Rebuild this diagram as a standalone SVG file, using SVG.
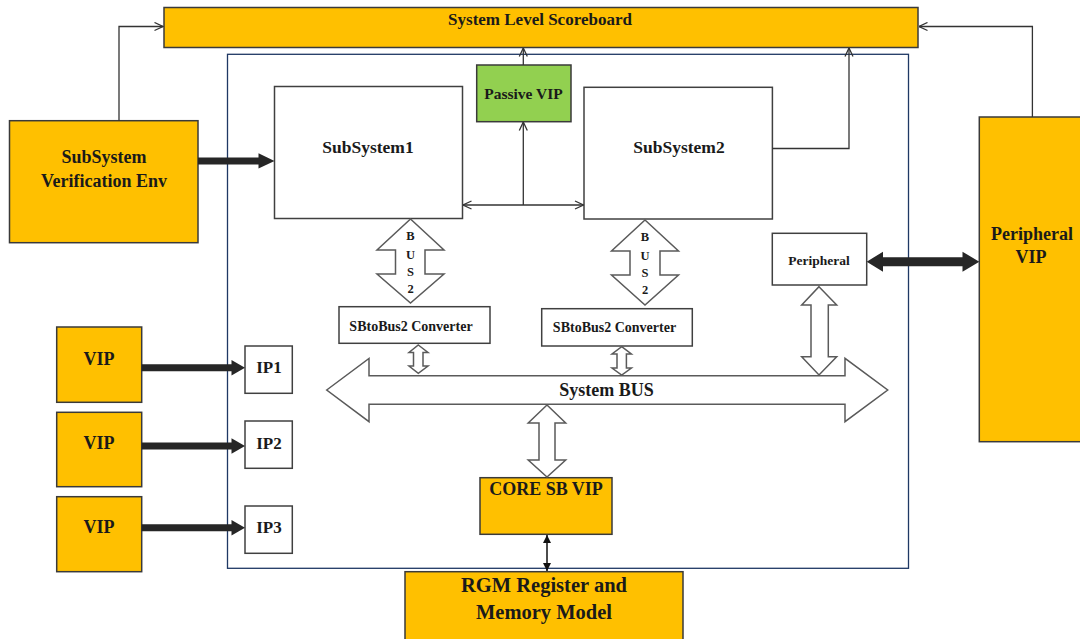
<svg xmlns="http://www.w3.org/2000/svg" width="1080" height="639" viewBox="0 0 1080 639">
<style>
.t{font-family:"Liberation Serif","Times New Roman",serif;font-weight:bold;fill:#1a1a1a;text-anchor:middle}
.org{fill:#ffc000;stroke:#3a3a3a;stroke-width:1.5}
.wht{fill:#ffffff;stroke:#404040;stroke-width:1.5}
.grn{fill:#92d050;stroke:#3a3a3a;stroke-width:1.5}
.ln{fill:none;stroke:#333333;stroke-width:1.3}
.thick{fill:#262626;stroke:none}
.hollow{fill:#ffffff;stroke:#5a5a5a;stroke-width:1.5;stroke-linejoin:miter}
</style>
<defs>
<marker id="open" viewBox="0 0 10 10" refX="9.5" refY="5" markerWidth="10" markerHeight="10" markerUnits="userSpaceOnUse" orient="auto-start-reverse">
<path d="M1,1 L9.5,5 L1,9" fill="none" stroke="#333333" stroke-width="1.3"/>
</marker>
<marker id="solid" viewBox="0 0 10 10" refX="10" refY="5" markerWidth="8" markerHeight="8" markerUnits="userSpaceOnUse" orient="auto-start-reverse">
<path d="M0,0 L10,5 L0,10 Z" fill="#111111"/>
</marker>
</defs>
<rect width="1080" height="639" fill="#ffffff"/>

<g id="outer-box">
<rect x="227.5" y="54.3" width="681" height="514" fill="none" stroke="#1f3864" stroke-width="1.3"/>
</g>

<g id="scoreboard">
<rect class="org" x="164" y="7.5" width="754" height="40"/>
<text class="t" x="540" y="25" font-size="17">System Level Scoreboard</text>
</g>

<g id="ssve">
<rect class="org" x="9.5" y="120.7" width="188.5" height="122"/>
<text class="t" x="104" y="163" font-size="18">SubSystem</text>
<text class="t" x="104" y="187" font-size="18">Verification Env</text>
</g>

<g id="subsystem1">
<rect class="wht" x="274.5" y="86.5" width="188" height="132"/>
<text class="t" x="368" y="152.5" font-size="17.5">SubSystem1</text>
</g>

<g id="passive-vip">
<rect class="grn" x="476.7" y="65" width="94.3" height="56.7"/>
<text class="t" x="523.5" y="98.5" font-size="15.5">Passive VIP</text>
</g>

<g id="subsystem2">
<rect class="wht" x="584" y="87.3" width="188.4" height="131.7"/>
<text class="t" x="679" y="152.5" font-size="17.5">SubSystem2</text>
</g>

<g id="peripheral-vip">
<rect class="org" x="979.3" y="117" width="110" height="324.7"/>
<text class="t" x="1032" y="240" font-size="18">Peripheral</text>
<text class="t" x="1031" y="263" font-size="18">VIP</text>
</g>

<g id="peripheral">
<rect class="wht" x="772.3" y="233.3" width="94.4" height="51.7"/>
<text class="t" x="819" y="264.5" font-size="13.5">Peripheral</text>
</g>

<g id="converter1">
<rect class="wht" x="339" y="306.7" width="151" height="36.6"/>
<text class="t" x="411" y="331" font-size="14">SBtoBus2 Converter</text>
</g>

<g id="converter2">
<rect class="wht" x="541.7" y="308.7" width="150.6" height="37.3"/>
<text class="t" x="614.5" y="332" font-size="14">SBtoBus2 Converter</text>
</g>

<g id="vip1">
<rect class="org" x="56.7" y="327" width="85" height="75.3"/>
<text class="t" x="99" y="364.5" font-size="18">VIP</text>
</g>
<g id="vip2">
<rect class="org" x="56.7" y="412.3" width="85" height="74.4"/>
<text class="t" x="99" y="449" font-size="18">VIP</text>
</g>
<g id="vip3">
<rect class="org" x="56.7" y="496.7" width="85" height="75"/>
<text class="t" x="99" y="533" font-size="18">VIP</text>
</g>

<g id="ip1">
<rect class="wht" x="245" y="346" width="47.3" height="47.3"/>
<text class="t" x="269" y="373" font-size="17">IP1</text>
</g>
<g id="ip2">
<rect class="wht" x="245" y="421" width="47.3" height="47.3"/>
<text class="t" x="269" y="448.5" font-size="17">IP2</text>
</g>
<g id="ip3">
<rect class="wht" x="245" y="506" width="47.3" height="47.3"/>
<text class="t" x="269" y="533" font-size="17">IP3</text>
</g>

<g id="core-sb-vip">
<rect class="org" x="480" y="477.7" width="132" height="56.6"/>
<text class="t" x="546" y="495" font-size="18">CORE SB VIP</text>
</g>

<g id="rgm">
<rect class="org" x="405" y="571.7" width="278" height="75"/>
<text class="t" x="544" y="592" font-size="20.5">RGM Register and</text>
<text class="t" x="544" y="618.5" font-size="20.5">Memory Model</text>
</g>

<g id="system-bus">
<polygon class="hollow" points="326.7,390 369,358.5 369,375.7 845,375.7 845,358.3 887.7,390 845,421.7 845,404.3 369,404.3 369,421.7"/>
<text class="t" x="606.5" y="396" font-size="18">System BUS</text>
</g>

<g id="bus2-left">
<polygon class="hollow" points="410.5,219 444,250 425,250 425,274 444,274 410.5,303 377,274 395.5,274 395.5,250 377,250"/>
<text class="t" x="410.5" y="240" font-size="12.5">B</text>
<text class="t" x="410.5" y="258.5" font-size="12.5">U</text>
<text class="t" x="410.5" y="276" font-size="12.5">S</text>
<text class="t" x="410.5" y="292.5" font-size="12.5">2</text>
</g>

<g id="bus2-right">
<polygon class="hollow" points="645,220 678.5,251 660,251 660,275 678.5,275 645,305 611.5,275 630,275 630,251 611.5,251"/>
<text class="t" x="645" y="241" font-size="12.5">B</text>
<text class="t" x="645" y="259.5" font-size="12.5">U</text>
<text class="t" x="645" y="277" font-size="12.5">S</text>
<text class="t" x="645" y="293.5" font-size="12.5">2</text>
</g>

<g id="connectors">
<path class="ln" d="M119,120.7 V26.5 H163" marker-end="url(#open)"/>
<path class="ln" d="M1032.4,117 V26.5 H919" marker-end="url(#open)"/>
<path class="ln" d="M772.4,148.5 H849 V48" marker-end="url(#open)"/>
<path class="ln" d="M523.3,65 V48" marker-end="url(#open)"/>
<path class="ln" d="M523.3,205 V122" marker-end="url(#open)"/>
<path class="ln" d="M463,205 H583.5" marker-start="url(#open)" marker-end="url(#open)"/>
<path d="M547,535 V571" fill="none" stroke="#111111" stroke-width="1.5" marker-start="url(#solid)" marker-end="url(#solid)"/>

<polygon class="thick" points="198,157.5 258.5,157.5 258.5,153.3 274.5,161 258.5,168.5 258.5,164.5 198,164.5"/>
<polygon class="thick" points="141.7,364.3 231.5,364.3 231.5,360 245,367.7 231.5,375.5 231.5,371.2 141.7,371.2"/>
<polygon class="thick" points="141.7,442.5 231.5,442.5 231.5,438.3 245,446 231.5,453.7 231.5,449.5 141.7,449.5"/>
<polygon class="thick" points="141.7,524.2 231.5,524.2 231.5,520 245,527.7 231.5,535.5 231.5,531.2 141.7,531.2"/>
<polygon class="thick" points="866.7,261.7 883,251.7 883,257.3 962.5,257.3 962.5,251.7 979.3,261.7 962.5,271.7 962.5,266.3 883,266.3 883,271.7"/>

<polygon class="hollow" points="819,286.7 836.7,305 828.3,305 828.3,356.7 836.7,356.7 819,375 801.7,356.7 811,356.7 811,305 801.7,305"/>
<polygon class="hollow" points="547,405 565.7,423 555,423 555,460 565.7,460 547,477 528.2,460 539,460 539,423 528.2,423"/>
<polygon class="hollow" points="418.3,345 428,352.5 423,352.5 423,366 428,366 418.3,373.3 409,366 413.5,366 413.5,352.5 409,352.5"/>
<polygon class="hollow" points="621.7,346.7 631.4,354 626.4,354 626.4,368 631.4,368 621.7,375 612,368 617,368 617,354 612,354"/>
</g>
</svg>
